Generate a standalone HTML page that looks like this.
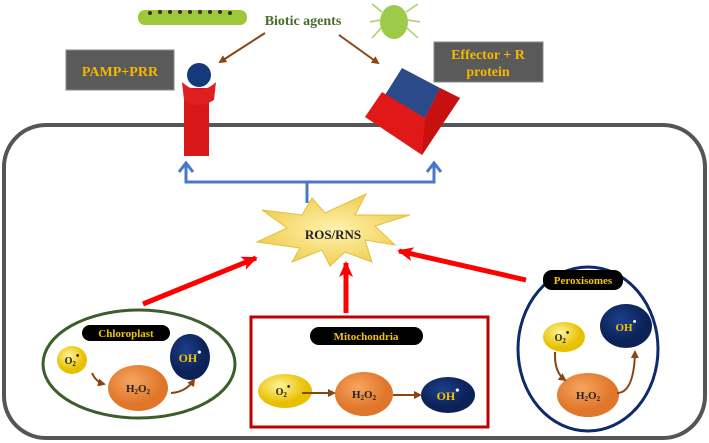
<!DOCTYPE html>
<html><head><meta charset="utf-8"><style>
html,body{margin:0;padding:0;background:#fff;}
svg{display:block;font-family:"Liberation Serif",serif;font-weight:bold;}
</style></head><body>
<svg width="709" height="443" viewBox="0 0 709 443" xmlns="http://www.w3.org/2000/svg">
<defs>
<marker id="br" markerWidth="8" markerHeight="8" refX="6" refY="4" orient="auto" markerUnits="userSpaceOnUse"><path d="M0,0 L8,4 L0,8 z" fill="#8b4513"/></marker>
<marker id="rd" markerWidth="16" markerHeight="14" refX="14" refY="7" orient="auto" markerUnits="userSpaceOnUse"><path d="M0,0 L16,7 L0,14 L4,7 z" fill="#f00"/></marker>
<radialGradient id="yel" cx="40%" cy="35%"><stop offset="0" stop-color="#fff39a"/><stop offset="1" stop-color="#e8c000"/></radialGradient>
<radialGradient id="org" cx="40%" cy="35%"><stop offset="0" stop-color="#f6a55f"/><stop offset="1" stop-color="#e0762a"/></radialGradient>
<radialGradient id="nav" cx="40%" cy="35%"><stop offset="0" stop-color="#1d3f8a"/><stop offset="1" stop-color="#0b2157"/></radialGradient>
<radialGradient id="star" cx="50%" cy="50%"><stop offset="0" stop-color="#fff3b0"/><stop offset="1" stop-color="#f0cf55"/></radialGradient>
</defs>
<rect x="4" y="125" width="701" height="313" rx="42" fill="none" stroke="#555" stroke-width="4"/>
<g>
<rect x="138" y="10" width="109" height="15" rx="7" fill="#9cc83a"/>
<g fill="#3a2a1a"><circle cx="150" cy="13" r="2"/><circle cx="160" cy="12" r="2"/><circle cx="170" cy="12" r="2"/><circle cx="180" cy="12" r="2"/><circle cx="190" cy="12" r="2"/><circle cx="200" cy="12" r="2"/><circle cx="210" cy="12" r="2"/><circle cx="220" cy="12" r="2"/><circle cx="230" cy="13" r="2"/></g>
</g>
<text x="303" y="25" font-size="14" fill="#4a6b2a" text-anchor="middle">Biotic agents</text>
<ellipse cx="394" cy="22" rx="14" ry="17" fill="#9ccb4a"/>
<g stroke="#a8d060" stroke-width="1.5"><line x1="382" y1="12" x2="372" y2="4"/><line x1="406" y1="12" x2="418" y2="4"/><line x1="381" y1="28" x2="372" y2="38"/><line x1="407" y1="28" x2="418" y2="38"/><line x1="380" y1="20" x2="370" y2="22"/><line x1="408" y1="20" x2="420" y2="22"/></g>
<line x1="265" y1="33" x2="220" y2="62" stroke="#8b4513" stroke-width="2" marker-end="url(#br)"/>
<line x1="339" y1="35" x2="378" y2="63" stroke="#8b4513" stroke-width="2" marker-end="url(#br)"/>
<rect x="66" y="50" width="108" height="40" fill="#5a5a5a" stroke="#888"/>
<text x="120" y="76" font-size="14" fill="#f5b800" text-anchor="middle">PAMP+PRR</text>
<rect x="434" y="42" width="109" height="40" fill="#5a5a5a" stroke="#888"/>
<text x="488" y="59" font-size="14" fill="#f5b800" text-anchor="middle">Effector + R</text>
<text x="488" y="76" font-size="14" fill="#f5b800" text-anchor="middle">protein</text>
<rect x="184" y="88" width="25" height="68" fill="#d81818"/>
<path d="M182,82 Q199,98 216,82 L214,100 Q199,110 184,100 z" fill="#e02020"/>
<circle cx="199" cy="75" r="12" fill="#143a7a"/>
<!-- R protein -->
<polygon points="402,68 440,88 425,118 385,95" fill="#2a4a8a"/>
<polygon points="382,92 425,118 440,88 460,98 422,155 365,117" fill="#e01818"/>
<polygon points="425,118 440,88 460,98 422,155" fill="#c81010"/>
<g stroke="#4a78c8" stroke-width="3" fill="none">
<path d="M186,165 L186,182 L434,182 L434,165"/>
<path d="M307,182 L307,203"/>
<path d="M179,172 L186,163 L193,172"/>
<path d="M427,172 L434,163 L441,172"/>
</g>
<polygon points="257,242 287,228 262,210 302,215 312,198 325,213 366,194 355,215 410,215 375,226 395,245 365,240 372,262 345,252 330,266 322,250 292,262 300,248" fill="url(#star)" stroke="#e0c040"/>
<text x="333" y="239" font-size="13" fill="#222" text-anchor="middle">ROS/RNS</text>
<g stroke="#f00" stroke-width="5" fill="none">
<line x1="143" y1="304" x2="256" y2="258" marker-end="url(#rd)"/>
<line x1="346" y1="313" x2="346" y2="263" marker-end="url(#rd)"/>
<line x1="526" y1="280" x2="399" y2="251" marker-end="url(#rd)"/>
</g>
<ellipse cx="139" cy="364" rx="96" ry="54" fill="none" stroke="#3b5e2b" stroke-width="3"/>
<rect x="82" y="325" width="88" height="16" rx="8" fill="#000"/>
<text x="126" y="337" font-size="11" fill="#f5c400" text-anchor="middle">Chloroplast</text>
<ellipse cx="72" cy="360" rx="15" ry="14" fill="url(#yel)"/>
<text x="72" y="364" font-size="10" fill="#222" text-anchor="middle">O<tspan font-size="7" dy="2">2</tspan><tspan dy="-7">•</tspan></text>
<ellipse cx="138" cy="388" rx="30" ry="23" fill="url(#org)"/>
<text x="138" y="392" font-size="11" fill="#222" text-anchor="middle">H<tspan font-size="7" dy="2">2</tspan><tspan dy="-2">O</tspan><tspan font-size="7" dy="2">2</tspan></text>
<ellipse cx="190" cy="357" rx="20" ry="23" fill="url(#nav)"/>
<text x="190" y="362" font-size="12" fill="#f5c400" text-anchor="middle">OH<tspan dy="-6" fill="#fff">•</tspan></text>
<path d="M92,373 Q96,382 104,384" stroke="#8b4513" stroke-width="2" fill="none" marker-end="url(#br)"/>
<path d="M171,393 Q186,392 194,380" stroke="#8b4513" stroke-width="2" fill="none" marker-end="url(#br)"/>
<rect x="251" y="317" width="237" height="110" fill="none" stroke="#c00000" stroke-width="3"/>
<rect x="310" y="327" width="113" height="18" rx="9" fill="#000"/>
<text x="366" y="340" font-size="11" fill="#f5c400" text-anchor="middle">Mitochondria</text>
<ellipse cx="285" cy="391" rx="27" ry="17" fill="url(#yel)"/>
<text x="283" y="395" font-size="10" fill="#222" text-anchor="middle">O<tspan font-size="7" dy="2">2</tspan><tspan dy="-7">•</tspan></text>
<ellipse cx="364" cy="394" rx="29" ry="22" fill="url(#org)"/>
<text x="364" y="398" font-size="11" fill="#222" text-anchor="middle">H<tspan font-size="7" dy="2">2</tspan><tspan dy="-2">O</tspan><tspan font-size="7" dy="2">2</tspan></text>
<ellipse cx="448" cy="395" rx="27" ry="18" fill="url(#nav)"/>
<text x="448" y="400" font-size="12" fill="#f5c400" text-anchor="middle">OH<tspan dy="-6" fill="#fff">•</tspan></text>
<line x1="302" y1="393" x2="334" y2="393" stroke="#8b4513" stroke-width="2" marker-end="url(#br)"/>
<line x1="393" y1="395" x2="420" y2="395" stroke="#8b4513" stroke-width="2" marker-end="url(#br)"/>
<ellipse cx="588" cy="349" rx="70" ry="82" fill="none" stroke="#0d2a6b" stroke-width="3"/>
<rect x="543" y="270" width="80" height="20" rx="9" fill="#000"/>
<text x="583" y="284" font-size="11" fill="#f5c400" text-anchor="middle">Peroxisomes</text>
<ellipse cx="564" cy="337" rx="21" ry="15" fill="url(#yel)"/>
<text x="562" y="341" font-size="10" fill="#222" text-anchor="middle">O<tspan font-size="7" dy="2">2</tspan><tspan dy="-7">•</tspan></text>
<ellipse cx="626" cy="326" rx="26" ry="22" fill="url(#nav)"/>
<text x="626" y="331" font-size="11" fill="#f5c400" text-anchor="middle">OH<tspan dy="-6" fill="#fff">•</tspan></text>
<ellipse cx="588" cy="395" rx="31" ry="22" fill="url(#org)"/>
<text x="588" y="399" font-size="11" fill="#222" text-anchor="middle">H<tspan font-size="7" dy="2">2</tspan><tspan dy="-2">O</tspan><tspan font-size="7" dy="2">2</tspan></text>
<path d="M555,352 Q554,372 565,380" stroke="#8b4513" stroke-width="2" fill="none" marker-end="url(#br)"/>
<path d="M617,393 Q634,393 635,352" stroke="#8b4513" stroke-width="2" fill="none" marker-end="url(#br)"/>
</svg>
</body></html>
